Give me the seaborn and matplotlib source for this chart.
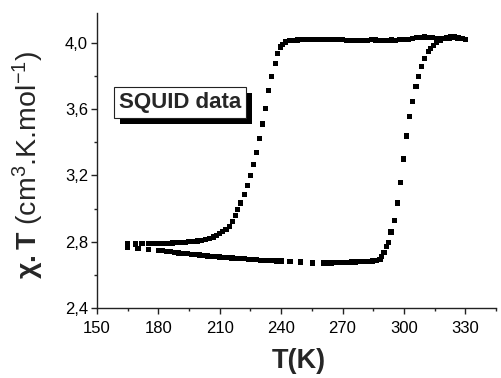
import numpy as np
import pandas as pd
import matplotlib
matplotlib.use("Agg")
import matplotlib.pyplot as plt
import matplotlib.patheffects as pe
from matplotlib.ticker import FixedLocator, FuncFormatter
import seaborn as sns

# Cooling branch (upper plateau then transition near 232 K)
T_cool = [330, 328, 326, 324, 322, 320, 318, 316, 314, 312, 310, 308, 306, 304, 302,
          300, 298, 296, 294, 292, 290, 288, 286, 284, 282, 280, 278, 276, 274, 272,
          270, 268, 266, 264, 262, 260, 258, 256, 254, 252, 250, 248, 246, 244, 242,
          240.5, 239.7, 238.4, 237.1, 235.4, 234.0, 232.5, 230.9, 229.5, 228.0, 226.3,
          224.9, 223.4, 221.9, 220.3, 218.8, 217.5, 216.2, 214.6, 213, 211.5, 210,
          208.5, 207, 205, 203, 201, 199, 197, 195, 193, 191, 189, 187, 185, 183, 181,
          179, 177, 175, 172, 169, 165]
chiT_cool = [4.022, 4.025, 4.028, 4.030, 4.028, 4.026, 4.025, 4.028, 4.030, 4.033, 4.035,
             4.034, 4.030, 4.026, 4.022, 4.020, 4.018, 4.016, 4.017, 4.016, 4.014, 4.015,
             4.017, 4.018, 4.016, 4.013, 4.012, 4.012, 4.014, 4.016, 4.018, 4.020, 4.020,
             4.019, 4.020, 4.021, 4.020, 4.019, 4.018, 4.019, 4.018, 4.017, 4.016, 4.012,
             4.005, 3.990, 3.975, 3.936, 3.876, 3.795, 3.711, 3.605, 3.510, 3.422, 3.340,
             3.265, 3.201, 3.139, 3.083, 3.033, 2.992, 2.956, 2.922, 2.892, 2.876, 2.860,
             2.848, 2.838, 2.829, 2.820, 2.813, 2.808, 2.804, 2.801, 2.799, 2.797, 2.795,
             2.793, 2.792, 2.791, 2.790, 2.789, 2.788, 2.788, 2.787, 2.787, 2.786, 2.786]

# Heating branch (lower plateau then transition near 300 K)
T_heat = [165, 170, 175, 180, 182, 184, 186, 188, 190, 192, 194, 196, 198, 200, 202, 204,
          206, 208, 210, 212, 214, 216, 218, 220, 222, 224, 226, 228, 230, 232, 234, 236,
          238, 240, 244.3, 249.5, 255.4, 260.6, 262.5, 264.5, 266.5, 268.5, 270.5, 272.5,
          274.5, 276.5, 278.5, 280.5, 282.5, 284.5, 286.7, 288.3, 289.1, 290.3, 291.4,
          292.4, 293.7, 295.2, 297.0, 298.3, 299.7, 301.4, 302.8, 304.3, 305.9, 307.2,
          308.5, 310.0, 311.9, 313, 314.4, 316, 317.7, 319.5, 321, 322.6, 324.5, 326.5,
          328.5, 330]
chiT_heat = [2.767, 2.757, 2.755, 2.747, 2.745, 2.742, 2.739, 2.736, 2.732, 2.729, 2.727,
             2.725, 2.722, 2.720, 2.717, 2.714, 2.712, 2.710, 2.708, 2.706, 2.704, 2.702,
             2.700, 2.698, 2.697, 2.695, 2.693, 2.691, 2.689, 2.688, 2.686, 2.685, 2.684,
             2.683, 2.682, 2.677, 2.671, 2.671, 2.671, 2.672, 2.673, 2.674, 2.675, 2.676,
             2.677, 2.678, 2.679, 2.680, 2.681, 2.683, 2.687, 2.695, 2.711, 2.735, 2.770,
             2.795, 2.858, 2.930, 3.033, 3.158, 3.299, 3.438, 3.554, 3.645, 3.735, 3.795,
             3.855, 3.906, 3.946, 3.965, 3.986, 4.003, 4.016, 4.025, 4.032, 4.036, 4.035,
             4.032, 4.028, 4.022]

x_ticks = [150, 180, 210, 240, 270, 300, 330]
y_ticks = [2.4, 2.8, 3.2, 3.6, 4.0]

df = pd.concat([
    pd.DataFrame({"T": T_cool, "chiT": chiT_cool, "branch": "cooling"}),
    pd.DataFrame({"T": T_heat, "chiT": chiT_heat, "branch": "heating"}),
])

sns.set_theme(style="ticks")
plt.rcParams["font.family"] = ["Liberation Sans", "DejaVu Sans"]
plt.rcParams["mathtext.fontset"] = "custom"
plt.rcParams["mathtext.rm"] = "Liberation Sans"
plt.rcParams["mathtext.bf"] = "Liberation Sans:bold"
plt.rcParams["mathtext.it"] = "Liberation Sans:italic"

fig = plt.figure(figsize=(5.02, 3.78), dpi=100)
ax = fig.add_axes([97 / 502, 1 - 308 / 378, 399 / 502, 295 / 378])

sns.scatterplot(data=df, x="T", y="chiT", hue="branch",
                palette={"cooling": "black", "heating": "black"},
                marker="s", s=14, linewidth=0, legend=False, ax=ax)

ax.set_xlim(150, 345)
ax.set_ylim(2.4, 4.18)
ax.xaxis.set_major_locator(FixedLocator(x_ticks))
ax.yaxis.set_major_locator(FixedLocator(y_ticks))
ax.xaxis.set_minor_locator(FixedLocator([165, 195, 225, 255, 285, 315, 345]))
ax.yaxis.set_minor_locator(FixedLocator([2.6, 3.0, 3.4, 3.8]))
ax.yaxis.set_major_formatter(FuncFormatter(lambda v, p: f"{v:.1f}".replace(".", ",")))
ax.xaxis.set_major_formatter(FuncFormatter(lambda v, p: f"{v:.0f}"))

for side in ["top", "right"]:
    ax.spines[side].set_visible(False)
for side in ["left", "bottom"]:
    ax.spines[side].set_linewidth(1.0)
    ax.spines[side].set_color("#222222")

ax.tick_params(which="major", direction="out", length=4.5, width=1.0, color="#222222",
               labelsize=12, labelcolor="black")
ax.tick_params(which="minor", direction="out", length=2.5, width=1.0, color="#222222")
ax.tick_params(axis="x", pad=5)
ax.tick_params(axis="y", pad=2)

ax.set_xlabel("")
ax.set_ylabel("")
fig.text(0.5 * (97 + 496) / 502 + 0.005, 1 - 361 / 378, "T(K)", ha="center", va="center",
         fontsize=19.5, fontweight="bold")
fig.text(28 / 502, 1 - 165 / 378,
         r"$\mathbf{\chi.T}$ (cm$^{3}$.K.mol$^{-1}$)",
         rotation=90, ha="center", va="center", fontsize=20.5)

t = ax.text(0.209, 0.696, "SQUID data", transform=ax.transAxes, ha="center", va="center",
            fontsize=16, fontweight="bold",
            bbox=dict(boxstyle="square,pad=0.22", facecolor="white", edgecolor="#222222",
                      linewidth=0.8))
t.get_bbox_patch().set_path_effects([
    pe.SimplePatchShadow(offset=(4, -4), shadow_rgbFace="black", alpha=1.0),
    pe.Normal()])

fig.savefig("out.png", dpi=100)
